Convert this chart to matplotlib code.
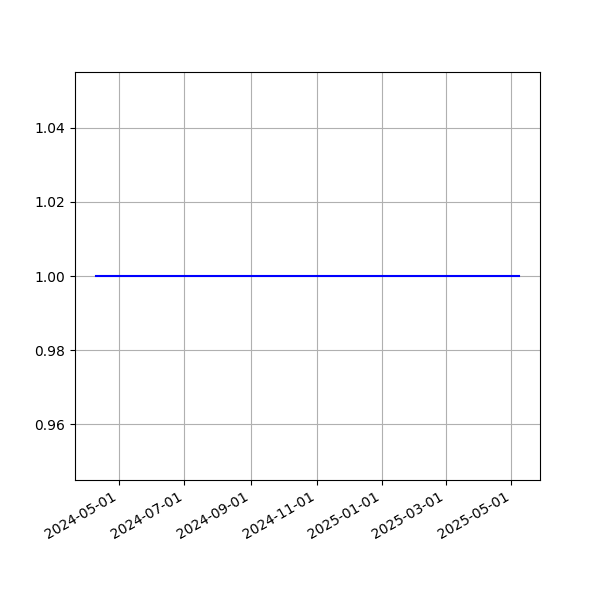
import pandas as pd
import matplotlib
matplotlib.use('Agg')
import matplotlib.pyplot as plt
import matplotlib.dates as mdates

# DATA
dates = pd.to_datetime(['2024-04-10', '2025-05-08'])
values = [1.0, 1.0]

# PLOT
fig, ax = plt.subplots(figsize=(6, 6), dpi=100)
ax.plot(dates, values, color='blue')
ax.xaxis.set_major_formatter(mdates.DateFormatter('%Y-%m-%d'))
ax.grid(True)
fig.autofmt_xdate()

plt.savefig('out.png', dpi=100)
